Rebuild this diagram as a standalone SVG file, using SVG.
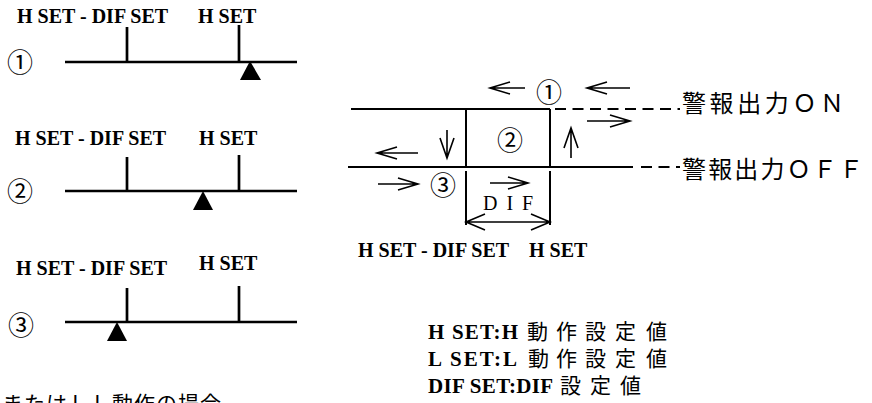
<svg xmlns="http://www.w3.org/2000/svg" width="872" height="403" viewBox="0 0 872 403">
<style>
.lbl{font-family:"Liberation Serif","Times New Roman",serif;font-weight:bold;font-size:20px;fill:#000}
.leg{font-family:"Liberation Serif","Times New Roman",serif;font-weight:bold;font-size:21px;fill:#000}
.cjk{font-family:"Noto Sans CJK JP",sans-serif;font-weight:normal;fill:#000}
.num{font-family:"Noto Sans CJK JP",sans-serif;font-size:26px;fill:#000;text-anchor:middle}
.thick{stroke:#000;stroke-width:2.7;fill:none}
.ln{stroke:#000;stroke-width:2;fill:none}
.dash{stroke:#000;stroke-width:2;fill:none;stroke-dasharray:11 6.5}
.arr{stroke:#000;stroke-width:1.6;fill:none}
.tri{fill:#000}
</style>
<rect width="872" height="403" fill="#fff"/>

<g id="row1">
  <text class="lbl" x="17" y="23">H SET - DIF SET</text>
  <text class="lbl" x="198" y="23">H SET</text>
  <text class="num" x="20" y="72">①</text>
  <path class="thick" d="M65,62 H297 M127,27 V62 M239,25 V62"/>
  <polygon class="tri" points="250,61 240,80 261,80"/>
</g>

<g id="row2">
  <text class="lbl" x="15" y="145">H SET - DIF SET</text>
  <text class="lbl" x="199" y="145">H SET</text>
  <text class="num" x="20" y="201">②</text>
  <path class="thick" d="M65,191 H297 M127,157 V191 M239,155 V191"/>
  <polygon class="tri" points="203,191 193,210 213,210"/>
</g>

<g id="row3">
  <text class="lbl" x="16" y="275">H SET - DIF SET</text>
  <text class="lbl" x="199" y="270">H SET</text>
  <text class="num" x="21" y="335">③</text>
  <path class="thick" d="M65,322 H297 M127,288 V322 M239,286 V322"/>
  <polygon class="tri" points="117,322 107,341 127,341"/>
</g>

<g id="hysteresis">
  <path class="ln" d="M351,109 H550 M348,167 H633 M466,109 V167 M466,171 V225 M550,109 V167 M550,171 V225"/>
  <path class="dash" d="M555,109 H680"/>
  <path class="dash" d="M641,167 H680"/>
  <text class="num" x="549" y="102">①</text>
  <text class="num" x="510" y="150">②</text>
  <text class="num" x="443" y="195">③</text>
  <text x="483" y="210" style="font-family:'Liberation Serif','Times New Roman',serif;font-size:20px" letter-spacing="9">DIF</text>
</g>

<g id="connectors">
  <path class="arr" d="M490,88 H525 M510,82 L490,88 L510,94"/>
  <path class="arr" d="M587,88 H630 M607,82 L587,88 L607,94"/>
  <path class="arr" d="M587,121 H630 M610,115 L630,121 L610,127"/>
  <path class="arr" d="M571,128 V158 M564,148 L571,128 L578,148"/>
  <path class="arr" d="M447,130 V158 M440,138 L447,158 L454,138"/>
  <path class="arr" d="M377,153 H418 M397,147 L377,153 L397,159"/>
  <path class="arr" d="M378,184 H418 M398,178 L418,184 L398,190"/>
  <path class="arr" d="M490,183 H528 M508,177 L528,183 L508,189"/>
  <path class="arr" d="M466,222 H550 M485,214 L466,222 L485,230 M531,214 L550,222 L531,230"/>
</g>

<g id="axis-labels">
  <text class="lbl" x="358" y="257">H SET - DIF SET</text>
  <text class="lbl" x="529" y="257">H SET</text>
</g>

<g id="output-labels">
  <text class="cjk" x="682" y="112" font-size="24" textLength="162">警報出力ＯＮ</text>
  <text class="cjk" x="682" y="178" font-size="24" textLength="181">警報出力ＯＦＦ</text>
</g>

<g id="legend">
  <text class="leg" x="428" y="339" textLength="90">H SET:H</text>
  <text class="cjk" y="339" font-size="21"><tspan x="527">動</tspan><tspan x="556">作</tspan><tspan x="585">設</tspan><tspan x="615">定</tspan><tspan x="646">値</tspan></text>
  <text class="leg" x="428" y="366" textLength="89">L SET:L</text>
  <text class="cjk" y="366" font-size="21"><tspan x="528">動</tspan><tspan x="556">作</tspan><tspan x="585">設</tspan><tspan x="615">定</tspan><tspan x="646">値</tspan></text>
  <text class="leg" x="428" y="393" textLength="125">DIF SET:DIF</text>
  <text class="cjk" y="393" font-size="21"><tspan x="560">設</tspan><tspan x="590">定</tspan><tspan x="620">値</tspan></text>
</g>

<g id="footnote">
  <text class="cjk" x="2" y="411" font-size="21" letter-spacing="1">またはＬＬ動作の場合</text>
</g>
</svg>
